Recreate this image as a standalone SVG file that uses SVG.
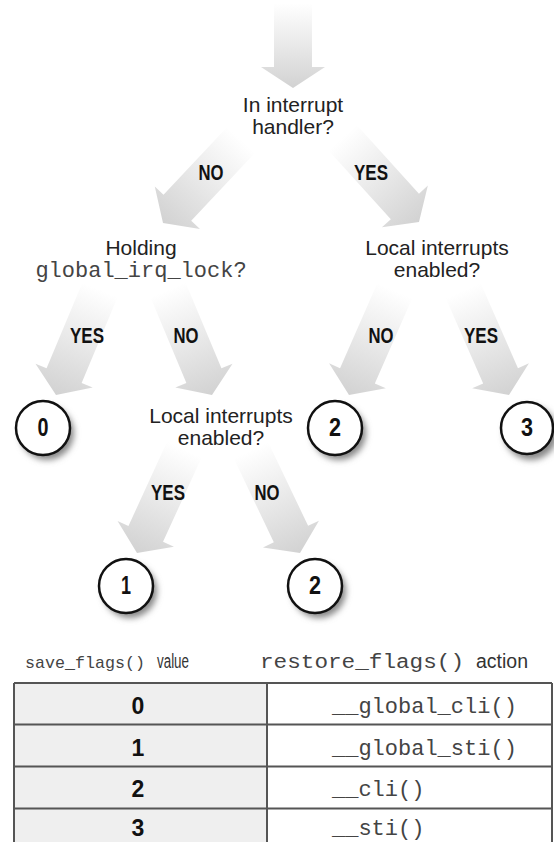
<svg xmlns="http://www.w3.org/2000/svg" xmlns:xlink="http://www.w3.org/1999/xlink" width="554" height="842" viewBox="0 0 554 842">
<style>
.lbl{font-family:"Liberation Sans",Arial,sans-serif;font-size:21px;fill:#222;text-anchor:middle}
.mono{font-family:"Liberation Mono","Courier New",monospace;fill:#444}
.yn{font-family:"Liberation Sans",Arial,sans-serif;font-size:22px;font-weight:bold;fill:#111;text-anchor:middle}
.dig{font-family:"Liberation Sans",Arial,sans-serif;font-size:25px;font-weight:bold;fill:#111;text-anchor:middle}
.ring{fill:#fff;stroke:#111;stroke-width:2.5}
.shadow{fill:#888;filter:url(#blur)}
.hdr{font-family:"Liberation Sans",Arial,sans-serif;font-size:20px;fill:#333}
.tline{stroke:#555;stroke-width:2;fill:none}
.tdig{font-family:"Liberation Sans",Arial,sans-serif;font-size:23px;font-weight:bold;fill:#111;text-anchor:middle}
</style>
<defs>
<linearGradient id="ag" x1="0" y1="0" x2="0" y2="1">
<stop offset="0" stop-color="#ffffff"/>
<stop offset="0.45" stop-color="#ebebeb"/>
<stop offset="1" stop-color="#d2d2d2"/>
</linearGradient>
<filter id="blur" x="-30%" y="-30%" width="160%" height="160%"><feGaussianBlur stdDeviation="3"/></filter>
<path id="arr" d="M-19,-114 H19 V-21 H31 L0,0 L-31,-21 H-19 Z" fill="url(#ag)"/>
<path id="arrTop" d="M-19,-85 H19 V-21 H32 L0,0 L-32,-21 H-19 Z" fill="url(#ag)"/>
</defs>
<rect width="554" height="842" fill="#fff"/>
<g id="connectors">
<use href="#arrTop" transform="translate(293,88)"/>
<use href="#arr" transform="translate(163,223) rotate(43.2)"/>
<use href="#arr" transform="translate(419,222) rotate(-42.2)"/>
<use href="#arr" transform="translate(56,395) rotate(22.7)"/>
<use href="#arr" transform="translate(212,395) rotate(-22.7)"/>
<use href="#arr" transform="translate(349,395) rotate(23.7)"/>
<use href="#arr" transform="translate(509,395) rotate(-23.7)"/>
<use href="#arr" transform="translate(137,553) rotate(24.6)"/>
<use href="#arr" transform="translate(300,553) rotate(-25.5)"/>
<text class="yn" x="211" y="180" textLength="25" lengthAdjust="spacingAndGlyphs">NO</text>
<text class="yn" x="371" y="180" textLength="34" lengthAdjust="spacingAndGlyphs">YES</text>
<text class="yn" x="87" y="343" textLength="34" lengthAdjust="spacingAndGlyphs">YES</text>
<text class="yn" x="186" y="343" textLength="25" lengthAdjust="spacingAndGlyphs">NO</text>
<text class="yn" x="381" y="343" textLength="25" lengthAdjust="spacingAndGlyphs">NO</text>
<text class="yn" x="481" y="343" textLength="34" lengthAdjust="spacingAndGlyphs">YES</text>
<text class="yn" x="168" y="500" textLength="34" lengthAdjust="spacingAndGlyphs">YES</text>
<text class="yn" x="267" y="500" textLength="25" lengthAdjust="spacingAndGlyphs">NO</text>
</g>
<g id="q-interrupt">
<text class="lbl" x="293" y="112">In interrupt</text>
<text class="lbl" x="293" y="134">handler?</text>
</g>
<g id="q-holding">
<text class="lbl" x="141" y="255">Holding</text>
<text class="mono" x="141" y="277" font-size="22" text-anchor="middle">global_irq_lock?</text>
</g>
<g id="q-local-right">
<text class="lbl" x="437" y="255">Local interrupts</text>
<text class="lbl" x="437" y="277">enabled?</text>
</g>
<g id="q-local-mid">
<text class="lbl" x="221" y="423">Local interrupts</text>
<text class="lbl" x="221" y="445">enabled?</text>
</g>
<g id="r0a">
<circle class="shadow" cx="47" cy="433" r="27"/>
<circle class="ring" cx="43" cy="428" r="27"/>
<text class="dig" x="43" y="436" textLength="11" lengthAdjust="spacingAndGlyphs">0</text>
</g>
<g id="r2a">
<circle class="shadow" cx="339" cy="433" r="27"/>
<circle class="ring" cx="335" cy="428" r="27"/>
<text class="dig" x="335" y="436" textLength="12" lengthAdjust="spacingAndGlyphs">2</text>
</g>
<g id="r3">
<circle class="shadow" cx="531" cy="433" r="27"/>
<circle class="ring" cx="527" cy="428" r="26"/>
<text class="dig" x="527" y="436" textLength="12" lengthAdjust="spacingAndGlyphs">3</text>
</g>
<g id="r1">
<circle class="shadow" cx="130" cy="591" r="27"/>
<circle class="ring" cx="126" cy="586" r="27"/>
<text class="dig" x="126" y="594" textLength="10" lengthAdjust="spacingAndGlyphs">1</text>
</g>
<g id="r2b">
<circle class="shadow" cx="319" cy="591" r="27"/>
<circle class="ring" cx="315" cy="586" r="27"/>
<text class="dig" x="315" y="594" textLength="12" lengthAdjust="spacingAndGlyphs">2</text>
</g>
<g id="table">
<text class="mono" x="25" y="668" font-size="17" textLength="120" lengthAdjust="spacingAndGlyphs">save_flags()</text>
<text class="hdr" x="157" y="668" textLength="32" lengthAdjust="spacingAndGlyphs">value</text>
<text class="mono" x="260" y="668" font-size="20" textLength="204" lengthAdjust="spacingAndGlyphs">restore_flags()</text>
<text class="hdr" x="476" y="668" textLength="52" lengthAdjust="spacingAndGlyphs">action</text>
<rect x="14" y="683" width="253" height="170" fill="#efefef"/>
<path class="tline" d="M14,683 H552 M14,724.5 H552 M14,766.5 H552 M14,808.5 H552 M14,683 V850 M267,683 V850 M552,683 V850"/>
<text class="tdig" x="138" y="714">0</text>
<text class="tdig" x="138" y="756">1</text>
<text class="tdig" x="138" y="797">2</text>
<text class="tdig" x="138" y="836">3</text>
<text class="mono" x="332" y="713" font-size="22">__global_cli()</text>
<text class="mono" x="332" y="755" font-size="22">__global_sti()</text>
<text class="mono" x="332" y="796" font-size="22">__cli()</text>
<text class="mono" x="332" y="835" font-size="22">__sti()</text>
</g>
</svg>
